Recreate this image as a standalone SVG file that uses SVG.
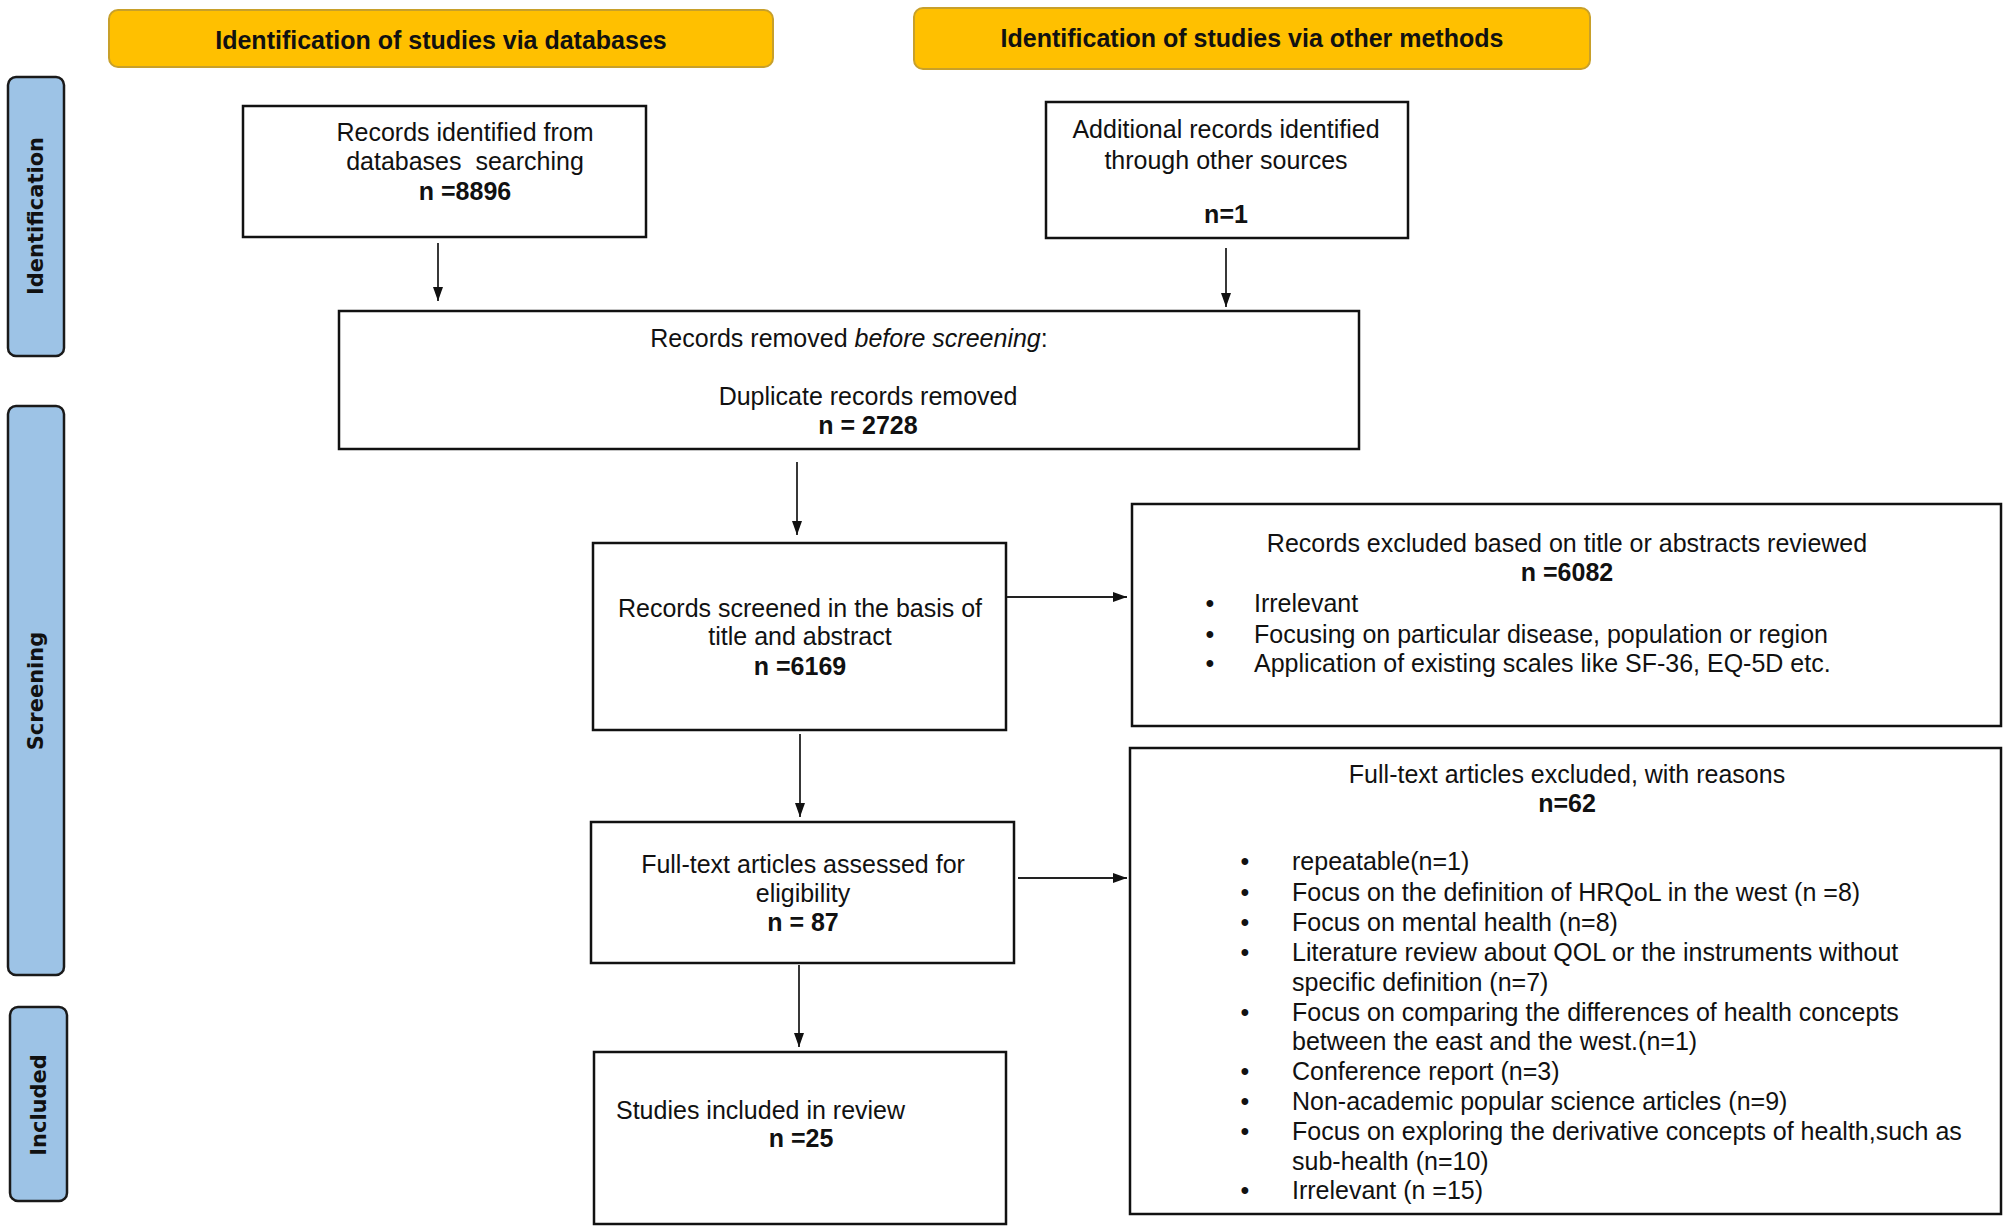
<svg xmlns="http://www.w3.org/2000/svg" width="2007" height="1231" viewBox="0 0 2007 1231">
<defs>
<marker id="arr" viewBox="0 0 14 10" refX="14" refY="5" markerWidth="14" markerHeight="10" markerUnits="userSpaceOnUse" orient="auto">
<path d="M0,0 L14,5 L0,10 z" fill="#111"/>
</marker>
<style>
.hdr{fill:#FFC000;stroke:#C8A02A;stroke-width:2}
.side{fill:#9DC3E6;stroke:#1a1a1a;stroke-width:2.5}
.box{fill:#fff;stroke:#111;stroke-width:2.5}
.t{font-family:"Liberation Sans",Arial,sans-serif;font-size:25px;fill:#111}
.c{text-anchor:middle}
.b{font-weight:bold}
.ht{font-family:"Liberation Sans",Arial,sans-serif;font-size:25px;font-weight:bold;text-anchor:middle;fill:#111}
.st{font-family:"DejaVu Sans",Verdana,sans-serif;font-size:21px;font-weight:bold;text-anchor:middle;fill:#111}
.conn line{stroke:#222;stroke-width:1.8;marker-end:url(#arr)}
</style>
</defs>
<rect width="2007" height="1231" fill="#fff"/>

<g id="header-databases">
<rect class="hdr" x="109" y="10" width="664" height="57" rx="9"/>
<text class="ht" x="441" y="49">Identification of studies via databases</text>
</g>
<g id="header-other">
<rect class="hdr" x="914" y="8" width="676" height="61" rx="9"/>
<text class="ht" x="1252" y="47">Identification of studies via other methods</text>
</g>

<g id="side-identification">
<rect class="side" x="8" y="77" width="56" height="279" rx="8"/>
<text class="st" transform="translate(43,216) rotate(-90)">Identification</text>
</g>
<g id="side-screening">
<rect class="side" x="8" y="406" width="56" height="569" rx="8"/>
<text class="st" transform="translate(43,691) rotate(-90)">Screening</text>
</g>
<g id="side-included">
<rect class="side" x="10" y="1007" width="57" height="194" rx="8"/>
<text class="st" transform="translate(46,1105) rotate(-90)">Included</text>
</g>

<g id="node-db">
<rect class="box" x="243" y="106" width="403" height="131"/>
<text class="t c" x="465" y="141">Records identified from</text>
<text class="t c" x="465" y="170" xml:space="preserve">databases  searching</text>
<text class="t c b" x="465" y="200">n =8896</text>
</g>

<g id="node-other">
<rect class="box" x="1046" y="102" width="362" height="136"/>
<text class="t c" x="1226" y="138">Additional records identified</text>
<text class="t c" x="1226" y="169">through other sources</text>
<text class="t c b" x="1226" y="223">n=1</text>
</g>

<g id="node-removed">
<rect class="box" x="339" y="311" width="1020" height="138"/>
<text class="t c" x="849" y="347">Records removed <tspan font-style="italic">before screening</tspan>:</text>
<text class="t c" x="868" y="405">Duplicate records removed</text>
<text class="t c b" x="868" y="434">n = 2728</text>
</g>

<g id="node-screened">
<rect class="box" x="593" y="543" width="413" height="187"/>
<text class="t c" x="800" y="617">Records screened in the basis of</text>
<text class="t c" x="800" y="645">title and abstract</text>
<text class="t c b" x="800" y="675">n =6169</text>
</g>

<g id="node-excluded-title">
<rect class="box" x="1132" y="504" width="869" height="222"/>
<text class="t c" x="1567" y="552">Records excluded based on title or abstracts reviewed</text>
<text class="t c b" x="1567" y="581">n =6082</text>
<text class="t c" x="1210" y="612">•</text><text class="t" x="1254" y="612">Irrelevant</text>
<text class="t c" x="1210" y="643">•</text><text class="t" x="1254" y="643">Focusing on particular disease, population or region</text>
<text class="t c" x="1210" y="672">•</text><text class="t" x="1254" y="672">Application of existing scales like SF-36, EQ-5D etc.</text>
</g>

<g id="node-fulltext">
<rect class="box" x="591" y="822" width="423" height="141"/>
<text class="t c" x="803" y="873">Full-text articles assessed for</text>
<text class="t c" x="803" y="902">eligibility</text>
<text class="t c b" x="803" y="931">n = 87</text>
</g>

<g id="node-excluded-fulltext">
<rect class="box" x="1130" y="748" width="871" height="466"/>
<text class="t c" x="1567" y="783">Full-text articles excluded, with reasons</text>
<text class="t c b" x="1567" y="812">n=62</text>
<text class="t c" x="1245" y="870">•</text><text class="t" x="1292" y="870">repeatable(n=1)</text>
<text class="t c" x="1245" y="901">•</text><text class="t" x="1292" y="901">Focus on the definition of HRQoL in the west (n =8)</text>
<text class="t c" x="1245" y="931">•</text><text class="t" x="1292" y="931">Focus on mental health (n=8)</text>
<text class="t c" x="1245" y="961">•</text><text class="t" x="1292" y="961">Literature review about QOL or the instruments without</text>
<text class="t" x="1292" y="991">specific definition (n=7)</text>
<text class="t c" x="1245" y="1021">•</text><text class="t" x="1292" y="1021">Focus on comparing the differences of health concepts</text>
<text class="t" x="1292" y="1050">between the east and the west.(n=1)</text>
<text class="t c" x="1245" y="1080">•</text><text class="t" x="1292" y="1080">Conference report (n=3)</text>
<text class="t c" x="1245" y="1110">•</text><text class="t" x="1292" y="1110">Non-academic popular science articles (n=9)</text>
<text class="t c" x="1245" y="1140">•</text><text class="t" x="1292" y="1140">Focus on exploring the derivative concepts of health,such as</text>
<text class="t" x="1292" y="1170">sub-health (n=10)</text>
<text class="t c" x="1245" y="1199">•</text><text class="t" x="1292" y="1199">Irrelevant (n =15)</text>
</g>

<g id="node-included">
<rect class="box" x="594" y="1052" width="412" height="172"/>
<text class="t" x="616" y="1119">Studies included in review</text>
<text class="t c b" x="801" y="1147">n =25</text>
</g>

<g id="connectors" class="conn">
<line x1="438" y1="243" x2="438" y2="301"/>
<line x1="1226" y1="248" x2="1226" y2="307"/>
<line x1="797" y1="462" x2="797" y2="535"/>
<line x1="800" y1="734" x2="800" y2="817"/>
<line x1="799" y1="965" x2="799" y2="1047"/>
<line x1="1007" y1="597" x2="1127" y2="597"/>
<line x1="1018" y1="878" x2="1127" y2="878"/>
</g>
</svg>
